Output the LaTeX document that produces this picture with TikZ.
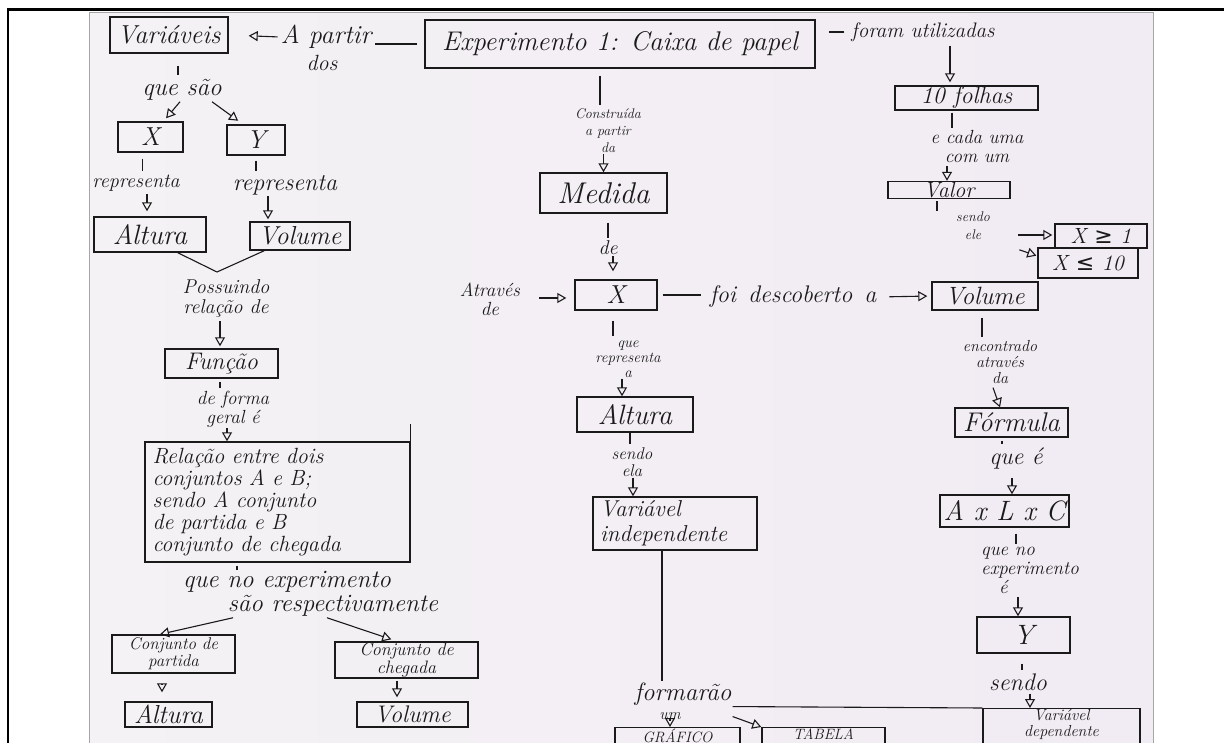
\documentclass[tikz,border=0pt]{standalone}
\usepackage{fontspec}
\newfontfamily\symfont{DejaVu Sans}
\usetikzlibrary{arrows.meta}
\definecolor{ink}{HTML}{1A1A1A}
\definecolor{paperL}{RGB}{244,242,244}
\definecolor{paperR}{RGB}{241,235,243}
\newcommand{\hw}[2]{\fontsize{#1}{#2}\selectfont\itshape}

\begin{document}
\begin{tikzpicture}[x=1pt,y=-1pt,
  box/.style={draw=ink, line width=1.4pt, inner sep=0pt, text=ink, align=center},
  lbl/.style={inner sep=1pt, text=ink, align=center},
  conn/.style={draw=ink, line width=1.1pt},
  arr/.style={conn, -{Triangle[open,length=9pt,width=10pt]}},
]
\useasboundingbox (0,0) rectangle (1224,743);
\clip (0,0) rectangle (1224,743);
\fill[white] (0,0) rectangle (1224,743);
% sheet of paper
\shade[left color=paperL, right color=paperR] (89,13) rectangle (1153,760);
\draw[gray!70, line width=1pt] (89,760) -- (89,13) -- (1153,13) -- (1153,760);
% outer frame
\draw[black, line width=3pt] (7,10) -- (1230,10);
\draw[black, line width=2pt] (7.5,9) -- (7.5,760);

% ---------- concept boxes ----------
\node[box, minimum width=118pt, minimum height=36pt, font=\hw{26}{26}] (var) at (169,35) {Variáveis};
\node[box, minimum width=390pt, minimum height=48pt, font=\hw{27}{27}] (exp) at (620,44) {Experimento 1: Caixa de papel};
\node[box, minimum width=65pt, minimum height=30pt, font=\hw{26}{26}] (bx) at (150.5,137) {X};
\node[box, minimum width=58pt, minimum height=30pt, font=\hw{26}{26}] (by) at (256,140) {Y};
\node[box, minimum width=112pt, minimum height=35pt, font=\hw{28}{28}] (alt1) at (150,234.5) {Altura};
\node[box, minimum width=100pt, minimum height=28pt, font=\hw{26}{26}] (vol1) at (300,236) {Volume};
\node[box, minimum width=113pt, minimum height=29pt, font=\hw{24}{24}] (func) at (221.5,363.5) {Função};
\node[box, minimum width=265pt, minimum height=120pt, text width=250pt, align=left, font=\hw{22}{22}] (rel) at (277.5,502)
  {Relação entre dois\\conjuntos A e B;\\sendo A conjunto\\de partida e B\\conjunto de chegada};
\draw[conn, line width=1.4pt] (rel.north east) -- ([yshift=17pt]rel.north east);
\node[box, minimum width=123pt, minimum height=38pt, font=\hw{17}{17}] (cpart) at (173.5,654) {Conjunto de\\partida};
\node[box, minimum width=143pt, minimum height=36pt, font=\hw{18}{18}] (cheg) at (406.5,660) {Conjunto de\\chegada};
\node[box, minimum width=87pt, minimum height=25pt, font=\hw{26}{26}] (alt2) at (168.5,714.5) {Altura};
\node[box, minimum width=111pt, minimum height=25pt, font=\hw{24}{24}] (vol2) at (412.5,714.5) {Volume};

\node[box, minimum width=127pt, minimum height=40pt, font=\hw{30}{30}] (med) at (603.5,193) {Medida};
\node[box, minimum width=82pt, minimum height=30pt, font=\hw{26}{26}] (xc) at (616,295) {X};
\node[box, minimum width=116pt, minimum height=35pt, font=\hw{28}{28}] (altc) at (635,414.5) {Altura};
\node[box, minimum width=164pt, minimum height=53pt, text width=150pt, align=left, font=\hw{23}{25}] (vind) at (675,523.5) {Variável\\independente};
\node[box, anchor=north, minimum width=125pt, inner ysep=1pt, text depth=14pt, font=\hw{15}{15}] (graf) at (677.5,727) {GRÁFICO};
\node[box, anchor=north, minimum width=123pt, inner ysep=1pt, text depth=14pt, font=\hw{15}{15}] (tab) at (823.5,727) {TABELA};

\node[box, minimum width=143pt, minimum height=24pt, font=\hw{24}{24}] (folhas) at (966.5,98) {10 folhas};
\node[box, minimum width=122pt, minimum height=17pt, font=\hw{22}{22}] (valor) at (949,190) {Valor};
\node[box, minimum width=92pt, minimum height=24pt, font=\hw{22}{22}] (xg1) at (1101,236) {X {\symfont\upshape ≥} 1};
\node[box, minimum width=100pt, minimum height=30pt, font=\hw{22}{22}] (xl10) at (1088,263) {X {\symfont\upshape ≤} 10};
\node[box, minimum width=106pt, minimum height=28pt, font=\hw{25}{25}] (volr) at (985,296) {Volume};
\node[box, minimum width=113pt, minimum height=29pt, font=\hw{27}{27}] (form) at (1011.5,422.5) {Fórmula};
\node[box, minimum width=129pt, minimum height=32pt, font=\hw{28}{28}] (alc) at (1004.5,511) {A x L x C};
\node[box, minimum width=93pt, minimum height=36pt, font=\hw{28}{28}] (ybox) at (1023.5,635) {Y};
\node[box, anchor=north, minimum width=157pt, inner ysep=1pt, font=\hw{16}{16}] (vdep) at (1061.5,708) {Variável\\dependente\\[8pt]};

% ---------- linking phrases ----------
\node[lbl, font=\hw{26}{26}] (l_partir) at (326,37) {A partir};
\node[lbl, font=\hw{22}{22}] (l_dos) at (322,63) {dos};
\node[lbl, font=\hw{25}{25}] (l_quesao) at (182,90) {que são};
\node[lbl, font=\hw{20}{20}] (l_rep1) at (136,183) {representa};
\node[lbl, font=\hw{24}{24}] (l_rep2) at (285,185) {representa};
\node[lbl, font=\hw{20}{20}] (l_poss) at (226,298) {Possuindo\\relação de};
\node[lbl, font=\hw{19}{19}] (l_forma) at (233,409) {de forma\\geral é};
\node[lbl, font=\hw{25}{25}] (l_qne) at (287,582) {que no experimento};
\node[lbl, font=\hw{25}{25}] (l_sr) at (333,606) {são respectivamente};

\node[lbl, font=\hw{14}{17}] (l_constr) at (608,131) {Construída\\a partir\\da};
\node[lbl, font=\hw{20}{20}] (l_de) at (608,248) {de};
\node[lbl, font=\hw{19}{19}] (l_atr) at (490,299) {Através\\de};
\node[lbl, font=\hw{24}{24}] (l_foi) at (793,297) {foi\enspace descoberto\enspace a};
\node[lbl, font=\hw{15}{15}] (l_qrep) at (628,359) {que\\representa\\a};
\node[lbl, font=\hw{17}{17}] (l_sendo) at (632,462) {sendo\\ela};
\node[lbl, font=\hw{25}{25}] (l_form) at (683,694) {formarão};
\node[lbl, font=\hw{16}{16}] (l_um) at (670,716) {um};

\node[lbl, font=\hw{21}{21}] (l_foram) at (923,32) {foram utilizadas};
\node[lbl, font=\hw{19}{19}] (l_cada) at (977,147) {e cada uma\\com um};
\node[lbl, font=\hw{14}{18}] (l_sendo2) at (973,226) {sendo\\ele};
\node[lbl, font=\hw{16}{16}] (l_enc) at (1000,362) {encontrado\\através\\da};
\node[lbl, font=\hw{24}{24}] (l_quee) at (1016,458) {que é};
\node[lbl, anchor=west, align=left, font=\hw{19}{19}] (l_qne2) at (980,570) {que no\\experimento\\\hspace*{18pt}é};
\node[lbl, font=\hw{24}{24}] (l_sendo3) at (1018,682) {sendo};

% ---------- connectors: left branch ----------
\draw[conn, shorten <=7pt, shorten >=3pt] (exp.west) -- (exp.west -| l_partir.east);
\draw[arr, shorten <=2pt, shorten >=20pt] (l_partir.west) -- (var.east);
\draw[conn, shorten <=12pt, shorten >=3pt] ([xshift=9pt]var.south) -- ([xshift=-4pt]l_quesao.north);
\draw[arr, shorten >=4pt] ([xshift=-2pt]l_quesao.south) -- ([xshift=13pt]bx.north);
\draw[arr, shorten >=6pt] ([xshift=30pt]l_quesao.south) -- ([xshift=-13pt]by.north);
\draw[conn, shorten <=6pt, shorten >=3pt] ([xshift=-8pt]bx.south) -- ([xshift=6.5pt]l_rep1.north);
\draw[arr, shorten <=2pt, shorten >=5pt] ([xshift=11pt]l_rep1.south) -- ([xshift=-3pt]alt1.north);
\draw[conn, shorten <=5pt, shorten >=3pt] (by.south) -- ([xshift=-29pt]l_rep2.north);
\draw[arr, shorten >=2pt] ([xshift=-17pt]l_rep2.south) -- ([xshift=-32pt]vol1.north);
\coordinate (vjoin) at (217,272);
\draw[conn] ([xshift=-29pt]alt1.south east) -- (vjoin) -- ([xshift=15pt]vol1.south west);
\draw[arr, shorten <=3pt, shorten >=2pt] ([xshift=-6pt]l_poss.south) -- ([xshift=-1.5pt]func.north);
\draw[conn, shorten <=3pt, shorten >=2pt] ([xshift=-1.5pt]func.south) -- ([xshift=-13pt]l_forma.north);
\draw[arr] ([xshift=-6pt]l_forma.south) -- ([xshift=-50.5pt]rel.north);
\draw[conn, shorten <=3pt] ([xshift=-40.5pt]rel.south) -- ([xshift=-50pt]l_qne.north);
\draw[arr] ([xshift=-100pt]l_sr.south) -- ([xshift=-13.5pt]cpart.north);
\draw[arr, shorten >=6pt] ([xshift=-6pt]l_sr.south) -- ([xshift=-9.5pt]cheg.north);
\draw[arr, shorten <=10pt, shorten >=9pt] ([xshift=-11.5pt]cpart.south) -- ([xshift=-6.5pt]alt2.north);
\draw[arr, shorten <=2pt, shorten >=4pt] ([xshift=-9.5pt]cheg.south) -- ([xshift=-15.5pt]vol2.north);

% ---------- connectors: middle branch ----------
\draw[conn, shorten <=7pt, shorten >=3pt] ([xshift=-20pt]exp.south) -- ([xshift=-8pt]l_constr.north);
\draw[arr] ([xshift=-4.5pt]l_constr.south) -- (med.north);
\draw[conn, shorten <=9pt, shorten >=2pt] ([xshift=4.5pt]med.south) -- (l_de.north);
\draw[arr, shorten >=8pt] ([xshift=5pt]l_de.south) -- ([xshift=-3pt]xc.north);
\draw[arr, shorten <=18pt, shorten >=8pt] ([yshift=1pt]l_atr.east) -- ([yshift=-3pt]xc.west);
\draw[conn, shorten <=5pt, shorten >=8pt] (xc.east) -- (xc.east -| l_foi.west);
\draw[arr, shorten <=12pt, shorten >=4pt] (l_foi.east) -- (volr.west);
\draw[conn, shorten <=10pt, shorten >=3pt] ([xshift=-3pt]xc.south) -- ([xshift=-15pt]l_qrep.north);
\draw[arr] ([xshift=-6pt]l_qrep.south) -- ([xshift=-13pt]altc.north);
\draw[conn, shorten >=2pt] ([xshift=-5pt]altc.south) -- ([xshift=-2pt]l_sendo.north);
\draw[arr] ([xshift=1pt]l_sendo.south) -- ([xshift=-42pt]vind.north);
\draw[conn] ([xshift=-13pt]vind.south) -- ([xshift=-21pt]l_form.north);
\draw[arr] (l_um.south) -- ([xshift=-7.5pt]graf.north);
\draw[arr] ([yshift=-10pt]l_form.south east) -- (tab.north west);
\draw[conn] (l_form.south east) -- (vdep.north west);

% ---------- connectors: right branch ----------
\draw[conn, shorten <=6pt, shorten >=13pt] (l_foram.west) -- (l_foram.west -| exp.east);
\draw[arr, shorten <=3pt, shorten >=3pt] ([xshift=27pt]l_foram.south) -- ([xshift=-16.5pt]folhas.north);
\draw[conn, shorten <=2pt, shorten >=2pt] ([xshift=-14.5pt]folhas.south) -- ([xshift=-25pt]l_cada.north);
\draw[arr, shorten <=2pt] ([xshift=-30pt]l_cada.south) -- ([xshift=-2pt]valor.north);
\draw[conn, shorten <=2pt] ([xshift=-12pt]valor.south) -- ([xshift=-36pt]l_sendo2.north);
\draw[arr, shorten <=27pt, shorten >=2pt] ([yshift=-9pt]l_sendo2.east) -- ([yshift=1pt]xg1.west);
\draw[arr, shorten <=30pt, shorten >=1pt] ([yshift=-14pt]l_sendo2.east) -- ([yshift=7pt]xl10.west);
\draw[conn, shorten <=7pt, shorten >=2pt] ([xshift=-3pt]volr.south) -- ([xshift=-18pt]l_enc.north);
\draw[arr, shorten <=3pt] ([xshift=-8pt]l_enc.south) -- ([xshift=-11.5pt]form.north);
\draw[conn, shorten <=3pt, shorten >=2pt] ([xshift=-9.5pt]form.south) -- ([xshift=-14pt]l_quee.north);
\draw[arr, shorten <=8pt] ([xshift=-4pt]l_quee.south) -- ([xshift=7.5pt]alc.north);
\draw[conn, shorten <=6pt, shorten >=2pt] ([xshift=11.5pt]alc.south) -- ([xshift=36pt]l_qne2.north west);
\draw[arr, shorten <=3pt] ([xshift=38pt]l_qne2.south west) -- ([xshift=-5.5pt]ybox.north);
\draw[conn, shorten <=10pt, shorten >=2pt] ([xshift=-1.5pt]ybox.south) -- ([xshift=4pt]l_sendo3.north);
\draw[arr, shorten <=2pt] ([xshift=12pt]l_sendo3.south) -- ([xshift=-31.5pt]vdep.north);
\end{tikzpicture}
\end{document}
